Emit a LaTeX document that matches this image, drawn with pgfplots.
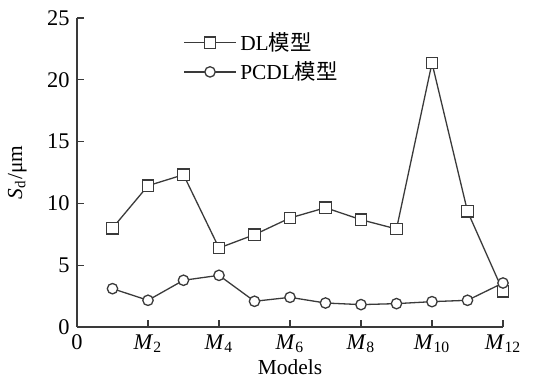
\documentclass[border=0pt]{standalone}
\usepackage{pgfplots}
\pgfplotsset{compat=1.18}
\usepackage{fontspec}
\setmainfont{Liberation Serif}
\newfontfamily\cjk{Noto Sans CJK SC}
\definecolor{ln}{HTML}{3A3A3A}
\begin{document}
\fontsize{10.7}{12.5}\selectfont
\begin{tikzpicture}
\begin{axis}[
  scale only axis,
  width=213pt, height=154.5pt,
  xmin=0, xmax=12, ymin=0, ymax=25,
  axis lines*=left,
  axis line style={ln, line width=0.6pt},
  tick style={ln, line width=0.6pt},
  tick align=inside,
  major tick length=3.5pt,
  xtick={0,2,4,6,8,10,12},
  xticklabels={0,\textit{M}\textsubscript{2},\textit{M}\textsubscript{4},\textit{M}\textsubscript{6},\textit{M}\textsubscript{8},\textit{M}\textsubscript{10},\textit{M}\textsubscript{12}},
  ytick={0,5,10,15,20,25},
  /pgf/number format/assume math mode=true,
  tick label style={font=\fontsize{11.2}{12}\selectfont},
  xlabel={Models},
  ylabel={\textit{S}\textsubscript{d}/μm},
  xlabel style={at={(axis description cs:0.5,-0.13)}, anchor=center},
  ylabel style={at={(axis description cs:-0.14,0.5)}, anchor=center},
  clip=false,
  legend style={at={(0.245,0.975)}, anchor=north west, draw=none, fill=none,
    font=\fontsize{10.7}{12}\selectfont, row sep=0pt, inner sep=1pt},
  legend cell align=left,
  legend image code/.code={\draw[mark repeat=2,mark phase=2] plot coordinates {(0cm,0cm)(0.45cm,0cm)(0.9cm,0cm)};},
]
\addplot[ln, line width=0.65pt, mark=square*, mark size=2.9pt, mark options={solid, fill=white, draw=ln, line width=0.65pt}] coordinates {
(1,8.0)(2,11.43)(3,12.32)(4,6.39)(5,7.47)(6,8.82)(7,9.65)(8,8.68)(9,7.93)(10,21.36)(11,9.36)(12,2.89)};
\addlegendentry{DL{\cjk 模型}}
\addplot[ln, line width=0.65pt, mark=*, mark size=2.6pt, mark options={solid, fill=white, draw=ln, line width=0.65pt}] coordinates {
(1,3.1)(2,2.16)(3,3.78)(4,4.18)(5,2.08)(6,2.4)(7,1.94)(8,1.81)(9,1.89)(10,2.05)(11,2.16)(12,3.56)};
\addlegendentry{PCDL{\cjk 模型}}
\end{axis}
\pgfresetboundingbox
\path[use as bounding box] (current axis.south west) ++(-38.5pt,-26pt) rectangle ++(271pt,189.5pt);
\end{tikzpicture}
\end{document}
